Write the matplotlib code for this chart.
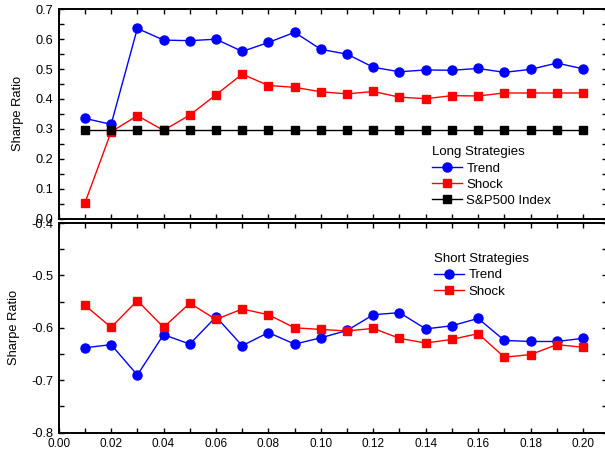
import matplotlib

matplotlib.use("Agg")
import matplotlib.pyplot as plt
from matplotlib.ticker import MultipleLocator, FormatStrFormatter

plt.rcParams["font.family"] = ["Liberation Sans", "DejaVu Sans"]

# data
x = [0.01, 0.02, 0.03, 0.04, 0.05, 0.06, 0.07, 0.08, 0.09, 0.10,
     0.11, 0.12, 0.13, 0.14, 0.15, 0.16, 0.17, 0.18, 0.19, 0.20]

long_trend = [0.335, 0.315, 0.636, 0.597, 0.595, 0.600, 0.559, 0.589, 0.623, 0.566,
              0.550, 0.506, 0.491, 0.497, 0.496, 0.502, 0.489, 0.499, 0.520, 0.501]
long_shock = [0.052, 0.290, 0.344, 0.295, 0.346, 0.414, 0.483, 0.445, 0.439, 0.424,
              0.417, 0.425, 0.406, 0.401, 0.411, 0.410, 0.420, 0.420, 0.420, 0.420]
sp500 = [0.296] * 20

short_trend = [-0.638, -0.632, -0.690, -0.613, -0.631, -0.579, -0.634, -0.609, -0.631, -0.619,
               -0.605, -0.575, -0.571, -0.602, -0.596, -0.582, -0.624, -0.626, -0.626, -0.620]
short_shock = [-0.557, -0.599, -0.548, -0.599, -0.553, -0.584, -0.564, -0.575, -0.600, -0.603,
               -0.606, -0.601, -0.620, -0.629, -0.622, -0.611, -0.656, -0.651, -0.632, -0.637]

W, H = 605, 455
fig = plt.figure(figsize=(W / 100, H / 100), dpi=100)

# right spine sits just past the image edge, as in the reference
x0, x1 = 58.7, 607.0
left = x0 / W
width = (x1 - x0) / W
xmax = (x1 - x0) / ((583.0 - x0) / 0.20)

ax1 = fig.add_axes([left, 1 - 218.5 / H, width, (218.5 - 9.3) / H])
ax2 = fig.add_axes([left, 1 - 432.7 / H, width, (432.7 - 223.0) / H])


def style_axis(ax):
    ax.set_xlim(0, xmax)
    ax.xaxis.set_major_locator(MultipleLocator(0.02))
    ax.xaxis.set_minor_locator(MultipleLocator(0.01))
    ax.yaxis.set_major_locator(MultipleLocator(0.1))
    ax.yaxis.set_minor_locator(MultipleLocator(0.05))
    ax.xaxis.set_major_formatter(FormatStrFormatter("%.2f"))
    ax.yaxis.set_major_formatter(FormatStrFormatter("%.1f"))
    ax.tick_params(which="both", direction="in", top=True, right=True,
                   width=1.0, length=3.8)
    ax.tick_params(axis="x", labelsize=8.5, pad=4)
    ax.tick_params(axis="y", labelsize=9.2, pad=4)
    for sp in ax.spines.values():
        sp.set_linewidth(1.4)
    ax.set_ylabel("Sharpe Ratio", fontsize=9.3, labelpad=8)


def add_legend(ax, title, xpix, yfrac):
    leg = ax.legend(title=title, frameon=False, loc="upper left",
                    bbox_to_anchor=((xpix - x0) / (x1 - x0), yfrac),
                    borderpad=0, borderaxespad=0, fontsize=9.5,
                    title_fontsize=9.5, handlelength=2.3, handletextpad=0.3,
                    labelspacing=0.3)
    leg._legend_box.align = "left"
    return leg


# long strategies
ax1.plot(x, long_trend, color="#0000ff", lw=1.0, marker="o", ms=6.5,
         label="Trend")
ax1.plot(x, long_shock, color="#ff0000", lw=1.0, marker="s", ms=6,
         label="Shock")
ax1.plot(x, sp500, color="black", lw=1.0, marker="s", ms=6,
         label="S&P500 Index")
style_axis(ax1)
ax1.set_ylim(0.0, 0.7)
ax1.tick_params(labelbottom=False)
add_legend(ax1, "Long Strategies", 432, 0.345)

# short strategies
ax2.plot(x, short_trend, color="#0000ff", lw=1.0, marker="o", ms=6.5,
         label="Trend")
ax2.plot(x, short_shock, color="#ff0000", lw=1.0, marker="s", ms=6,
         label="Shock")
style_axis(ax2)
ax2.set_ylim(-0.8, -0.4)
add_legend(ax2, "Short Strategies", 434, 0.856)

fig.savefig("out.png", dpi=100)
